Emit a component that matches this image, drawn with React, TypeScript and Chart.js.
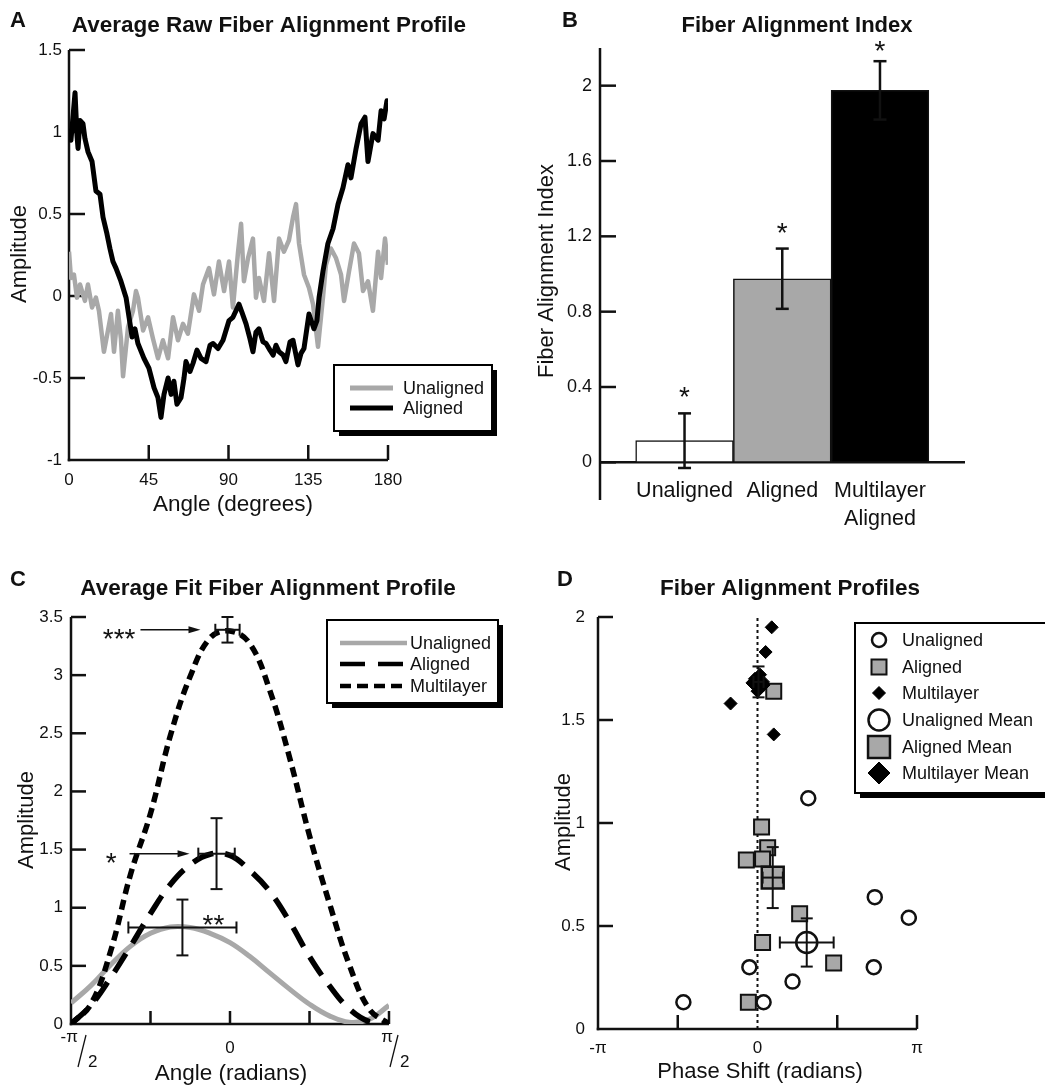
import React, { useEffect, useRef } from 'react';
import { Chart, registerables } from 'chart.js';

Chart.register(...registerables);

const FONT = '"Liberation Sans", Arial, Helvetica, sans-serif';
const INK = '#111111';
const GRAY = '#a8a8a8';

// ---------- Panel A: raw profiles ----------
const rawTitle = 'Average Raw Fiber Alignment Profile';
const rawXTicks = [0, 45, 90, 135, 180];
const rawXLabels = ['0', '45', '90', '135', '180'];
const rawYTicks = [-1, -0.5, 0, 0.5, 1, 1.5];
const rawYLabels = ['-1', '-0.5', '0', '0.5', '1', '1.5'];
const rawUnalignedAngle = [0, 1.1, 2.8, 4.5, 6.2, 9.0, 10.7, 13.0, 15.2, 16.9, 19.7, 22.0, 23.7, 25.4, 27.6, 29.3, 30.5, 33.3, 36.1, 37.8, 38.9, 41.8, 44.6, 47.4, 50.2, 53.0, 55.9, 58.7, 61.5, 64.3, 67.1, 70.5, 73.4, 75.6, 79.0, 81.8, 84.6, 87.5, 90.3, 92.5, 95.4, 97.1, 98.7, 101.0, 103.8, 105.5, 107.2, 110.0, 112.9, 115.7, 118.5, 121.3, 124.1, 126.4, 128.1, 129.8, 132.6, 135.4, 137.7, 140.5, 143.3, 145.0, 147.8, 150.7, 153.5, 155.2, 158.0, 160.8, 163.6, 165.9, 168.7, 171.5, 174.4, 176.1, 178.3, 180];
const rawUnalignedAmp = [0.27, 0.11, 0.13, -0.01, 0.07, -0.03, 0.07, -0.07, -0.01, -0.09, -0.34, -0.21, -0.11, -0.34, -0.09, -0.26, -0.49, -0.19, -0.09, 0.03, -0.01, -0.21, -0.13, -0.26, -0.38, -0.27, -0.38, -0.13, -0.27, -0.17, -0.23, 0.01, -0.09, 0.07, 0.17, 0.01, 0.21, 0.03, 0.21, -0.07, 0.27, 0.44, 0.09, 0.23, 0.35, -0.01, 0.11, -0.03, 0.26, -0.03, 0.35, 0.27, 0.34, 0.48, 0.56, 0.32, 0.13, 0.05, -0.05, -0.31, -0.01, 0.19, 0.29, 0.23, 0.13, -0.03, 0.15, 0.32, 0.26, 0.03, 0.09, -0.09, 0.27, 0.11, 0.35, 0.19];
const rawAlignedAngle = [0, 1.1, 2.3, 3.4, 4.5, 5.1, 6.2, 7.9, 9.0, 10.7, 13.0, 15.2, 17.5, 19.2, 21.4, 23.1, 24.8, 26.5, 29.3, 32.2, 33.9, 35.6, 37.2, 38.9, 42.3, 45.1, 48.0, 50.2, 51.9, 53.6, 55.9, 57.6, 59.2, 60.9, 63.2, 64.9, 66.0, 68.3, 70.0, 72.2, 74.5, 77.3, 79.6, 81.3, 84.1, 86.9, 90.3, 92.5, 95.9, 97.6, 99.9, 102.1, 103.8, 105.5, 107.2, 109.5, 111.2, 113.4, 115.2, 116.8, 118.5, 120.8, 122.4, 124.7, 126.4, 129.2, 130.9, 132.6, 135.4, 138.2, 139.9, 141.1, 143.3, 146.1, 149.0, 151.8, 154.6, 157.4, 159.1, 162.0, 164.8, 167.0, 168.7, 171.5, 174.4, 176.1, 177.8, 179.4, 180];
const rawAlignedAmp = [1.02, 0.95, 1.10, 1.24, 0.98, 0.90, 1.07, 1.05, 0.96, 0.88, 0.82, 0.64, 0.62, 0.48, 0.38, 0.29, 0.21, 0.17, 0.09, -0.01, -0.13, -0.25, -0.20, -0.29, -0.38, -0.44, -0.56, -0.62, -0.74, -0.60, -0.50, -0.60, -0.52, -0.66, -0.62, -0.50, -0.40, -0.46, -0.41, -0.33, -0.38, -0.40, -0.30, -0.29, -0.32, -0.27, -0.15, -0.13, -0.05, -0.10, -0.17, -0.26, -0.34, -0.22, -0.20, -0.28, -0.29, -0.33, -0.36, -0.30, -0.34, -0.36, -0.40, -0.28, -0.27, -0.42, -0.35, -0.32, -0.11, -0.20, -0.15, -0.01, 0.15, 0.32, 0.41, 0.56, 0.66, 0.80, 0.72, 0.90, 1.05, 1.09, 0.82, 0.99, 0.95, 1.13, 1.08, 1.19, 1.18];

// ---------- Panel B: alignment index ----------
const indexTitle = 'Fiber Alignment Index';
const indexCategories = ['Unaligned', 'Aligned', 'Multilayer\nAligned'];
const indexValues = [0.115, 0.975, 1.975];
const indexErrors = [0.145, 0.16, 0.155];
const indexYTicks = [0, 0.4, 0.8, 1.2, 1.6, 2];
const indexYLabels = ['0', '0.4', '0.8', '1.2', '1.6', '2'];
const indexColors = ['#ffffff', GRAY, '#000000'];

// ---------- Panel C: fitted profiles ----------
const fitTitle = 'Average Fit Fiber Alignment Profile';
const fitAngles = [-1.5708, -1.3744, -1.1781, -0.9817, -0.7854, -0.589, -0.3927, -0.1963, 0, 0.1963, 0.3927, 0.589, 0.7854, 0.9817, 1.1781, 1.3744, 1.5708];
const fitUnaligned = [0.18, 0.33, 0.51, 0.67, 0.78, 0.835, 0.83, 0.78, 0.70, 0.58, 0.44, 0.30, 0.17, 0.07, 0.015, 0.04, 0.16];
const fitAligned = [0.0, 0.16, 0.40, 0.67, 0.95, 1.20, 1.37, 1.46, 1.45, 1.32, 1.14, 0.88, 0.58, 0.33, 0.13, 0.02, 0.0];
const fitMultilayer = [0.0, 0.17, 0.63, 1.29, 1.81, 2.48, 2.99, 3.32, 3.38, 3.27, 2.87, 2.29, 1.62, 1.04, 0.51, 0.13, 0.0];
const fitMeanAngle = [-0.47, -0.133, -0.025];
const fitMeanAmp = [0.83, 1.465, 3.39];
const fitAngleErr = [0.534, 0.18, 0.12];
const fitAmpErr = [0.24, 0.305, 0.11];
const fitStars = ['**', '*', '***'];
const fitXTicks = [-1.5708, -0.7854, 0, 0.7854, 1.5708];
const fitXLabels = ['-π/2', '', '0', '', 'π/2'];
const fitYTicks = [0, 0.5, 1, 1.5, 2, 2.5, 3, 3.5];
const fitYLabels = ['0', '0.5', '1', '1.5', '2', '2.5', '3', '3.5'];

// ---------- Panel D: profile scatter ----------
const profTitle = 'Fiber Alignment Profiles';
const unalignedPhase = [1.0, 2.31, 2.98, 2.29, 0.69, -0.16, -1.46, 0.12];
const unalignedAmp = [1.12, 0.64, 0.54, 0.30, 0.23, 0.30, 0.13, 0.13];
const alignedPhase = [0.32, 0.08, 0.2, -0.22, 0.1, 0.83, 0.1, 1.5, -0.18];
const alignedAmp = [1.64, 0.98, 0.88, 0.82, 0.825, 0.56, 0.42, 0.32, 0.13];
const multiPhase = [0.28, 0.16, -0.53, 0.32, -0.1, 0.05, 0.12, 0.0, -0.05];
const multiAmp = [1.95, 1.83, 1.58, 1.43, 1.68, 1.72, 1.67, 1.64, 1.70];
const meanPhase = [0.97, 0.3, 0.02];
const meanAmp = [0.42, 0.735, 1.685];
const meanPhaseErr = [0.53, 0.2, 0.1];
const meanAmpErr = [0.117, 0.148, 0.075];
const phaseTicks = [-3.1416, -1.5708, 0, 1.5708, 3.1416];
const phaseLabels = ['-π', '', '0', '', 'π'];
const ampTicks = [0, 0.5, 1, 1.5, 2];
const ampLabels = ['0', '0.5', '1', '1.5', '2'];

// ---------- helpers ----------
const font = (size: number, bold = false) => `${bold ? 'bold ' : ''}${size}px ${FONT}`;

function seg(ctx: CanvasRenderingContext2D, x1: number, y1: number, x2: number, y2: number) {
  ctx.beginPath();
  ctx.moveTo(x1, y1);
  ctx.lineTo(x2, y2);
  ctx.stroke();
}

function label(ctx: CanvasRenderingContext2D, s: string, x: number, y: number, size: number, o: any = {}) {
  ctx.save();
  ctx.font = font(size, !!o.bold);
  ctx.fillStyle = INK;
  ctx.textAlign = o.align || 'center';
  ctx.textBaseline = o.baseline || 'alphabetic';
  ctx.fillText(s, x, y);
  ctx.restore();
}

function vlabel(ctx: CanvasRenderingContext2D, s: string, x: number, y: number, size: number) {
  ctx.save();
  ctx.translate(x, y);
  ctx.rotate(-Math.PI / 2);
  ctx.font = font(size);
  ctx.fillStyle = INK;
  ctx.textAlign = 'center';
  ctx.textBaseline = 'middle';
  ctx.fillText(s, 0, 0);
  ctx.restore();
}

function shadowBox(ctx: CanvasRenderingContext2D, x1: number, y1: number, x2: number, y2: number, off: number) {
  ctx.save();
  ctx.fillStyle = '#000';
  ctx.fillRect(x1 + off, y1 + off, x2 - x1, y2 - y1);
  ctx.fillStyle = '#fff';
  ctx.fillRect(x1, y1, x2 - x1, y2 - y1);
  ctx.strokeStyle = '#000';
  ctx.lineWidth = 2;
  ctx.strokeRect(x1, y1, x2 - x1, y2 - y1);
  ctx.restore();
}

function errorCross(ctx: CanvasRenderingContext2D, xs: any, ys: any, cx: number, cy: number, ex: number, ey: number, cap: number) {
  const px = xs.getPixelForValue(cx);
  const py = ys.getPixelForValue(cy);
  if (ey) {
    const t = ys.getPixelForValue(cy + ey);
    const b = ys.getPixelForValue(cy - ey);
    seg(ctx, px, t, px, b);
    seg(ctx, px - cap, t, px + cap, t);
    seg(ctx, px - cap, b, px + cap, b);
  }
  if (ex) {
    const l = xs.getPixelForValue(cx - ex);
    const r = xs.getPixelForValue(cx + ex);
    seg(ctx, l, py, r, py);
    seg(ctx, l, py - cap, l, py + cap);
    seg(ctx, r, py - cap, r, py + cap);
  }
}

function drawSymbol(ctx: CanvasRenderingContext2D, style: string, x: number, y: number, r: number, fill: string, stroke: string, bw: number) {
  ctx.save();
  ctx.beginPath();
  if (style === 'circle') {
    ctx.arc(x, y, r, 0, Math.PI * 2);
  } else if (style === 'rect') {
    const s = r * Math.SQRT1_2;
    ctx.rect(x - s, y - s, 2 * s, 2 * s);
  } else {
    ctx.moveTo(x - r, y);
    ctx.lineTo(x, y - r);
    ctx.lineTo(x + r, y);
    ctx.lineTo(x, y + r);
    ctx.closePath();
  }
  ctx.fillStyle = fill;
  ctx.fill();
  ctx.lineWidth = bw;
  ctx.strokeStyle = stroke;
  ctx.stroke();
  ctx.restore();
}

function linearAxis(min: number, max: number, ticks: number[], labels: string[] | null, size: number, padding: number, fit: any) {
  return {
    type: 'linear',
    min,
    max,
    offset: false,
    afterBuildTicks: (s: any) => {
      s.ticks = ticks.map((v) => ({ value: v }));
    },
    ticks: {
      display: labels !== null,
      font: { family: FONT, size },
      color: INK,
      padding,
      maxRotation: 0,
      minRotation: 0,
      autoSkip: false,
      callback: (_v: any, i: number) => (labels ? labels[i] : ''),
    },
    grid: { display: false, drawTicks: false },
    border: { display: false },
    afterFit: (s: any) => {
      if (fit.width !== undefined) s.width = fit.width;
      if (fit.height !== undefined) s.height = fit.height;
    },
  };
}

const commonOptions = {
  responsive: false,
  maintainAspectRatio: false,
  animation: false,
  events: [],
  plugins: { legend: { display: false }, tooltip: { enabled: false }, title: { display: false } },
};

function drawLAxes(chart: any, xTicks: number[], yTicks: number[], xLen: number, yLen: number, skipX: number[] = []) {
  const { ctx, chartArea: a, scales } = chart;
  ctx.save();
  ctx.strokeStyle = INK;
  ctx.lineWidth = 2.5;
  seg(ctx, a.left, a.top, a.left, a.bottom + 1.25);
  seg(ctx, a.left - 1.25, a.bottom, a.right, a.bottom);
  yTicks.slice(1).forEach((v) => {
    const p = scales.y.getPixelForValue(v);
    seg(ctx, a.left, p, a.left + yLen, p);
  });
  xTicks.slice(1).forEach((v) => {
    if (skipX.includes(v)) return;
    const p = scales.x.getPixelForValue(v);
    seg(ctx, p, a.bottom, p, a.bottom - xLen);
  });
  ctx.restore();
}

// ---------- configs ----------
const configA = () => ({
  type: 'line',
  data: {
    datasets: [
      { label: 'Unaligned', data: rawUnalignedAngle.map((x, i) => ({ x, y: rawUnalignedAmp[i] })), borderColor: GRAY, borderWidth: 4.5, pointRadius: 0, tension: 0, borderJoinStyle: 'round', order: 1 },
      { label: 'Aligned', data: rawAlignedAngle.map((x, i) => ({ x, y: rawAlignedAmp[i] })), borderColor: '#000', borderWidth: 5, pointRadius: 0, tension: 0, borderJoinStyle: 'round', order: 0 },
    ],
  },
  options: {
    ...commonOptions,
    layout: { padding: { left: 0, right: 132, top: 50, bottom: 40 } },
    scales: {
      x: linearAxis(0, 180, rawXTicks, rawXLabels, 17, 10, { height: 40 }),
      y: linearAxis(-1, 1.5, rawYTicks, rawYLabels, 17, 7, { width: 69 }),
    },
  },
  plugins: [
    {
      id: 'decorA',
      beforeDatasetsDraw(chart: any) {
        drawLAxes(chart, rawXTicks, rawYTicks, 15, 16);
      },
      afterDraw(chart: any) {
        const ctx = chart.ctx;
        label(ctx, 'A', 10, 27, 22, { bold: true, align: 'left' });
        label(ctx, rawTitle, 269, 32, 22.5, { bold: true });
        label(ctx, 'Angle (degrees)', 233, 511, 22.5);
        vlabel(ctx, 'Amplitude', 20, 254, 22);
        shadowBox(ctx, 334, 365, 492, 431, 5);
        chart.data.datasets.forEach((ds: any, i: number) => {
          const yy = 388 + i * 20;
          ctx.save();
          ctx.strokeStyle = ds.borderColor;
          ctx.lineWidth = 5;
          seg(ctx, 350, yy, 393, yy);
          ctx.restore();
          label(ctx, ds.label, 403, yy + 6, 18, { align: 'left' });
        });
      },
    },
  ],
});

const configB = () => ({
  type: 'bar',
  data: {
    datasets: [
      {
        data: indexValues.map((v, i) => ({ x: i + 1, y: v })),
        backgroundColor: indexColors,
        borderColor: INK,
        borderWidth: 1.5,
        borderSkipped: false,
        barPercentage: 1,
        categoryPercentage: 1,
      },
    ],
  },
  options: {
    ...commonOptions,
    layout: { padding: { left: 0, right: 80, top: 48, bottom: 40 } },
    scales: {
      x: {
        type: 'linear',
        display: false,
        min: 0.135,
        max: 3.87,
        offset: false,
        afterBuildTicks: (s: any) => {
          s.ticks = indexValues.map((_v, i) => ({ value: i + 1 }));
        },
      },
      y: linearAxis(-0.2, 2.2, indexYTicks, indexYLabels, 18, 8, { width: 80 }),
    },
  },
  plugins: [
    {
      id: 'decorB',
      beforeDatasetsDraw(chart: any) {
        const { ctx, chartArea: a, scales } = chart;
        ctx.save();
        ctx.strokeStyle = INK;
        ctx.lineWidth = 2.5;
        const y0 = scales.y.getPixelForValue(0);
        seg(ctx, a.left, a.top, a.left, a.bottom);
        seg(ctx, a.left, y0, a.right, y0);
        indexYTicks.forEach((v) => {
          const p = scales.y.getPixelForValue(v);
          seg(ctx, a.left, p, a.left + 16, p);
        });
        ctx.restore();
      },
      afterDatasetsDraw(chart: any) {
        const { ctx, scales } = chart;
        ctx.save();
        ctx.strokeStyle = INK;
        ctx.lineWidth = 2.5;
        indexValues.forEach((v, i) => errorCross(ctx, scales.x, scales.y, i + 1, v, 0, indexErrors[i], 6.5));
        ctx.restore();
      },
      afterDraw(chart: any) {
        const { ctx, scales } = chart;
        label(ctx, 'B', 42, 27, 22, { bold: true, align: 'left' });
        label(ctx, indexTitle, 277, 32, 22, { bold: true });
        vlabel(ctx, 'Fiber Alignment Index', 27, 271, 22);
        indexValues.forEach((v, i) => {
          const px = scales.x.getPixelForValue(i + 1);
          const top = scales.y.getPixelForValue(v + indexErrors[i]);
          label(ctx, '*', px, Math.max(top - 7, 60), 28);
          indexCategories[i].split('\n').forEach((ln, k) => label(ctx, ln, px, 497 + k * 28, 21.5));
        });
      },
    },
  ],
});

const configC = () => ({
  type: 'line',
  data: {
    datasets: [
      { label: 'Unaligned', data: fitAngles.map((x, i) => ({ x, y: fitUnaligned[i] })), borderColor: GRAY, borderWidth: 5, pointRadius: 0, tension: 0.4, order: 2 },
      { label: 'Aligned', data: fitAngles.map((x, i) => ({ x, y: fitAligned[i] })), borderColor: '#000', borderWidth: 5.5, borderDash: [22, 12], pointRadius: 0, tension: 0.4, order: 1 },
      { label: 'Multilayer', data: fitAngles.map((x, i) => ({ x, y: fitMultilayer[i] })), borderColor: '#000', borderWidth: 5.5, borderDash: [10, 6], pointRadius: 0, tension: 0.4, order: 0 },
    ],
  },
  options: {
    ...commonOptions,
    layout: { padding: { left: 0, right: 131, top: 77, bottom: 25 } },
    scales: {
      x: linearAxis(-1.5708, 1.5708, fitXTicks, null, 16, 0, { height: 40 }),
      y: linearAxis(0, 3.5, fitYTicks, fitYLabels, 17, 8, { width: 71 }),
    },
  },
  plugins: [
    {
      id: 'decorC',
      beforeDatasetsDraw(chart: any) {
        drawLAxes(chart, fitXTicks, fitYTicks, 13, 15);
      },
      afterDatasetsDraw(chart: any) {
        const { ctx, scales } = chart;
        ctx.save();
        ctx.strokeStyle = INK;
        ctx.fillStyle = INK;
        ctx.lineWidth = 2;
        fitMeanAngle.forEach((a, i) => {
          errorCross(ctx, scales.x, scales.y, a, fitMeanAmp[i], fitAngleErr[i], fitAmpErr[i], 6);
          const px = scales.x.getPixelForValue(a);
          const py = scales.y.getPixelForValue(fitMeanAmp[i]);
          if (fitStars[i].length === 2) {
            label(ctx, fitStars[i], px + 31, py + 7, 28);
          } else {
            const tip = px - 27;
            const start = px - 87;
            ctx.lineWidth = 1.5;
            seg(ctx, start, py, tip - 8, py);
            ctx.beginPath();
            ctx.moveTo(tip, py);
            ctx.lineTo(tip - 12, py - 3.5);
            ctx.lineTo(tip - 12, py + 3.5);
            ctx.closePath();
            ctx.fill();
            ctx.lineWidth = 2;
            label(ctx, fitStars[i], start - 5 - (fitStars[i].length === 1 ? 8 : 0), py + 18, 28, { align: 'right' });
          }
        });
        ctx.restore();
      },
      afterDraw(chart: any) {
        const { ctx, scales } = chart;
        label(ctx, 'C', 10, 46, 22, { bold: true, align: 'left' });
        label(ctx, fitTitle, 268, 55, 22.5, { bold: true });
        label(ctx, 'Angle (radians)', 231, 540, 22.5);
        vlabel(ctx, 'Amplitude', 27, 280, 22);
        // fractional tick labels
        fitXTicks.forEach((v, i) => {
          const s = fitXLabels[i];
          if (!s) return;
          const px = scales.x.getPixelForValue(v);
          if (s.includes('/')) {
            const [num, den] = s.split('/');
            const neg = num.startsWith('-');
            label(ctx, num, neg ? px + 7 : px - 2, 502, 17, { align: neg ? 'right' : 'center' });
            ctx.save();
            ctx.strokeStyle = INK;
            ctx.lineWidth = 1.3;
            const sx = neg ? px + 15 : px + 9;
            seg(ctx, sx, 495, sx - 8, 527);
            ctx.restore();
            label(ctx, den, sx + 2, 527, 17, { align: 'left' });
          } else {
            label(ctx, s, px, 513, 17);
          }
        });
        shadowBox(ctx, 327, 80, 498, 163, 5);
        const rows = [103, 124, 146];
        chart.data.datasets.forEach((ds: any, i: number) => {
          ctx.save();
          ctx.strokeStyle = ds.borderColor;
          ctx.lineWidth = 4.5;
          ctx.setLineDash(ds.borderDash ? (i === 1 ? [25, 13] : [11, 6]) : []);
          seg(ctx, 340, rows[i], 407, rows[i]);
          ctx.restore();
          label(ctx, ds.label, 410, rows[i] + 6, 18, { align: 'left' });
        });
      },
    },
  ],
});

const configD = () => ({
  type: 'scatter',
  data: {
    datasets: [
      { label: 'Unaligned', data: unalignedPhase.map((x, i) => ({ x, y: unalignedAmp[i] })), pointStyle: 'circle', pointRadius: 7, backgroundColor: '#fff', borderColor: INK, borderWidth: 2.5, order: 6 },
      { label: 'Aligned', data: alignedPhase.map((x, i) => ({ x, y: alignedAmp[i] })), pointStyle: 'rect', pointRadius: 10.6, backgroundColor: GRAY, borderColor: INK, borderWidth: 2, order: 5 },
      { label: 'Multilayer', data: multiPhase.map((x, i) => ({ x, y: multiAmp[i] })), pointStyle: 'rectRot', pointRadius: 6.5, backgroundColor: '#000', borderColor: '#000', borderWidth: 1, order: 4 },
      { label: 'Unaligned Mean', data: [{ x: meanPhase[0], y: meanAmp[0] }], pointStyle: 'circle', pointRadius: 10.5, backgroundColor: '#fff', borderColor: INK, borderWidth: 2.5, order: 3 },
      { label: 'Aligned Mean', data: [{ x: meanPhase[1], y: meanAmp[1] }], pointStyle: 'rect', pointRadius: 15.5, backgroundColor: GRAY, borderColor: INK, borderWidth: 2.5, order: 2 },
      { label: 'Multilayer Mean', data: [{ x: meanPhase[2], y: meanAmp[2] }], pointStyle: 'rectRot', pointRadius: 11, backgroundColor: '#000', borderColor: '#000', borderWidth: 1, order: 1 },
      { label: '', data: [{ x: 0, y: 0 }, { x: 0, y: 2 }], showLine: true, pointRadius: 0, borderColor: INK, borderWidth: 2, borderDash: [3, 3], order: 10 },
    ],
  },
  options: {
    ...commonOptions,
    layout: { padding: { left: 0, right: 128, top: 77, bottom: 20 } },
    scales: {
      x: linearAxis(-3.1416, 3.1416, phaseTicks, phaseLabels, 17, 9, { height: 40 }),
      y: linearAxis(0, 2, ampTicks, ampLabels, 17, 13, { width: 78 }),
    },
  },
  plugins: [
    {
      id: 'decorD',
      beforeDatasetsDraw(chart: any) {
        drawLAxes(chart, phaseTicks, ampTicks, 14, 15, [0]);
      },
      afterDatasetsDraw(chart: any) {
        const { ctx, scales } = chart;
        ctx.save();
        ctx.strokeStyle = INK;
        ctx.lineWidth = 2;
        meanPhase.forEach((p, i) => errorCross(ctx, scales.x, scales.y, p, meanAmp[i], meanPhaseErr[i], meanAmpErr[i], 6));
        ctx.restore();
      },
      afterDraw(chart: any) {
        const ctx = chart.ctx;
        label(ctx, 'D', 37, 46, 22, { bold: true, align: 'left' });
        label(ctx, profTitle, 270, 55, 22.5, { bold: true });
        label(ctx, 'Phase Shift (radians)', 240, 538, 22);
        vlabel(ctx, 'Amplitude', 44, 282, 22);
        shadowBox(ctx, 335, 83, 540, 253, 5);
        const rows = [100, 127, 153, 180, 207, 233];
        chart.data.datasets.slice(0, 6).forEach((ds: any, i: number) => {
          drawSymbol(ctx, ds.pointStyle, 359, rows[i], ds.pointRadius, ds.backgroundColor, ds.borderColor, ds.borderWidth);
          label(ctx, ds.label, 382, rows[i] + 6, 18, { align: 'left' });
        });
      },
    },
  ],
});

function ChartCanvas({ left, top, width, height, config }: any) {
  const ref = useRef<HTMLCanvasElement>(null);
  useEffect(() => {
    const chart = new Chart(ref.current as HTMLCanvasElement, config() as any);
    return () => chart.destroy();
  }, []);
  return <canvas ref={ref} width={width} height={height} style={{ position: 'absolute', left, top, width, height }} />;
}

export default function App() {
  return (
    <div style={{ position: 'absolute', left: 0, top: 0, width: 1045, height: 1089, background: '#fff', overflow: 'hidden' }}>
      <ChartCanvas left={0} top={0} width={520} height={540} config={configA} />
      <ChartCanvas left={520} top={0} width={525} height={540} config={configB} />
      <ChartCanvas left={0} top={540} width={520} height={549} config={configC} />
      <ChartCanvas left={520} top={540} width={525} height={549} config={configD} />
    </div>
  );
}
